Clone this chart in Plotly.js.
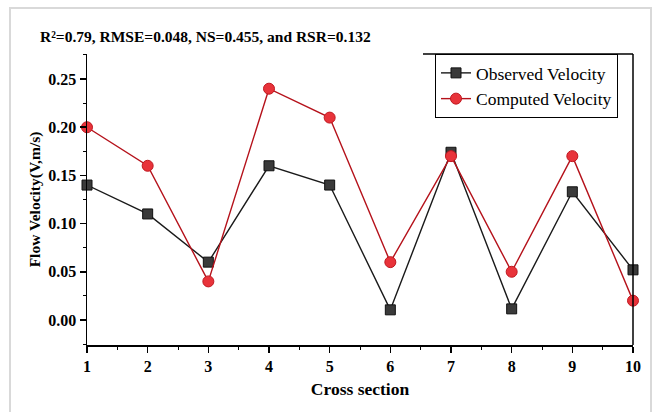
<!DOCTYPE html>
<html><head><meta charset="utf-8">
<script src="https://cdn.plot.ly/plotly-3.0.1.min.js"></script>
<style>
html,body{margin:0;padding:0;background:#fff;}
#wrap{position:relative;width:657px;height:412px;overflow:hidden;}
#frame{position:absolute;left:9px;top:7px;width:643px;height:420px;border:2px solid #d9d9d9;box-sizing:border-box;pointer-events:none;}
#chart{position:absolute;left:0;top:0;width:657px;height:412px;}
</style></head>
<body><div id="wrap"><div id="chart"></div><div id="frame"></div></div>
<script>
const crossSections = [1,2,3,4,5,6,7,8,9,10];
const observedVelocity = [0.14,0.11,0.06,0.16,0.14,0.0105,0.174,0.0115,0.133,0.052];
const computedVelocity = [0.20,0.16,0.04,0.24,0.21,0.06,0.17,0.05,0.17,0.02];
const tickVals = [0,0.05,0.10,0.15,0.20,0.25];
const tickText = ['0.00','0.05','0.10','0.15','0.20','0.25'];

const font = 'Liberation Serif, Times New Roman, serif';
const traces = [
 {x:crossSections,y:observedVelocity,name:'Observed Velocity',mode:'lines+markers',
  line:{color:'#1a1a1a',width:1.4},
  marker:{symbol:'square',size:10,color:'#3a3a3a',line:{color:'#111',width:1}},cliponaxis:false},
 {x:crossSections,y:computedVelocity,name:'Computed Velocity',mode:'lines+markers',
  line:{color:'#b5121b',width:1.4},
  marker:{symbol:'circle',size:11,color:'#e8333a',line:{color:'#c01820',width:1}},cliponaxis:false}
];
const layout = {
 width:657,height:412,
 margin:{l:87,r:24,t:54,b:67},
 paper_bgcolor:'rgba(0,0,0,0)',plot_bgcolor:'#fff',
 font:{family:font,color:'#000'},
 title:{text:'<b>R²=0.79, RMSE=0.048, NS=0.455, and RSR=0.132</b>',x:40/657,xanchor:'left',y:1-37/412,yanchor:'middle',font:{size:15.5,family:font}},
 xaxis:{range:[1,10],tickvals:crossSections,ticktext:crossSections.map(String),showgrid:false,zeroline:false,
  showline:true,linecolor:'#000',linewidth:1.5,ticks:'outside',ticklen:6,tickwidth:1.5,tickcolor:'#000',
  tickfont:{size:16,family:font,weight:'bold'},
  minor:{dtick:0.5,ticks:'outside',ticklen:3,tickwidth:1,tickcolor:'#000'},
  title:{text:'<b>Cross section</b>',font:{size:17.5,family:font},standoff:9}},
 yaxis:{range:[-0.026,0.276],tickvals:tickVals,ticktext:tickText,showgrid:false,zeroline:false,
  showline:true,linecolor:'#000',linewidth:1.5,ticks:'outside',ticklen:6,tickwidth:1.5,tickcolor:'#000',
  tickfont:{size:16,family:font,weight:'bold'},
  minor:{tickvals:[-0.025,0.025,0.075,0.125,0.175,0.225,0.275],ticks:'outside',ticklen:3,tickwidth:1,tickcolor:'#000'},
  title:{text:'<b>Flow Velocity(V,m/s)</b>',font:{size:15.5,family:font},standoff:4}},
 legend:{x:(435-87)/546,y:1,xanchor:'left',yanchor:'top',bgcolor:'#fff',bordercolor:'#000',borderwidth:1,
  font:{size:17.5,family:font},tracegroupgap:0,itemwidth:30},
 shapes:[
  {type:'line',xref:'paper',yref:'paper',x0:1,x1:1,y0:0,y1:1,line:{color:'#000',width:1.5}},
  {type:'line',xref:'paper',yref:'paper',x0:(423-87)/546,x1:1,y0:1,y1:1,line:{color:'#000',width:1.5}}
 ],
 showlegend:true
};
Plotly.newPlot('chart',traces,layout,{displayModeBar:false,staticPlot:true});
</script></body></html>
